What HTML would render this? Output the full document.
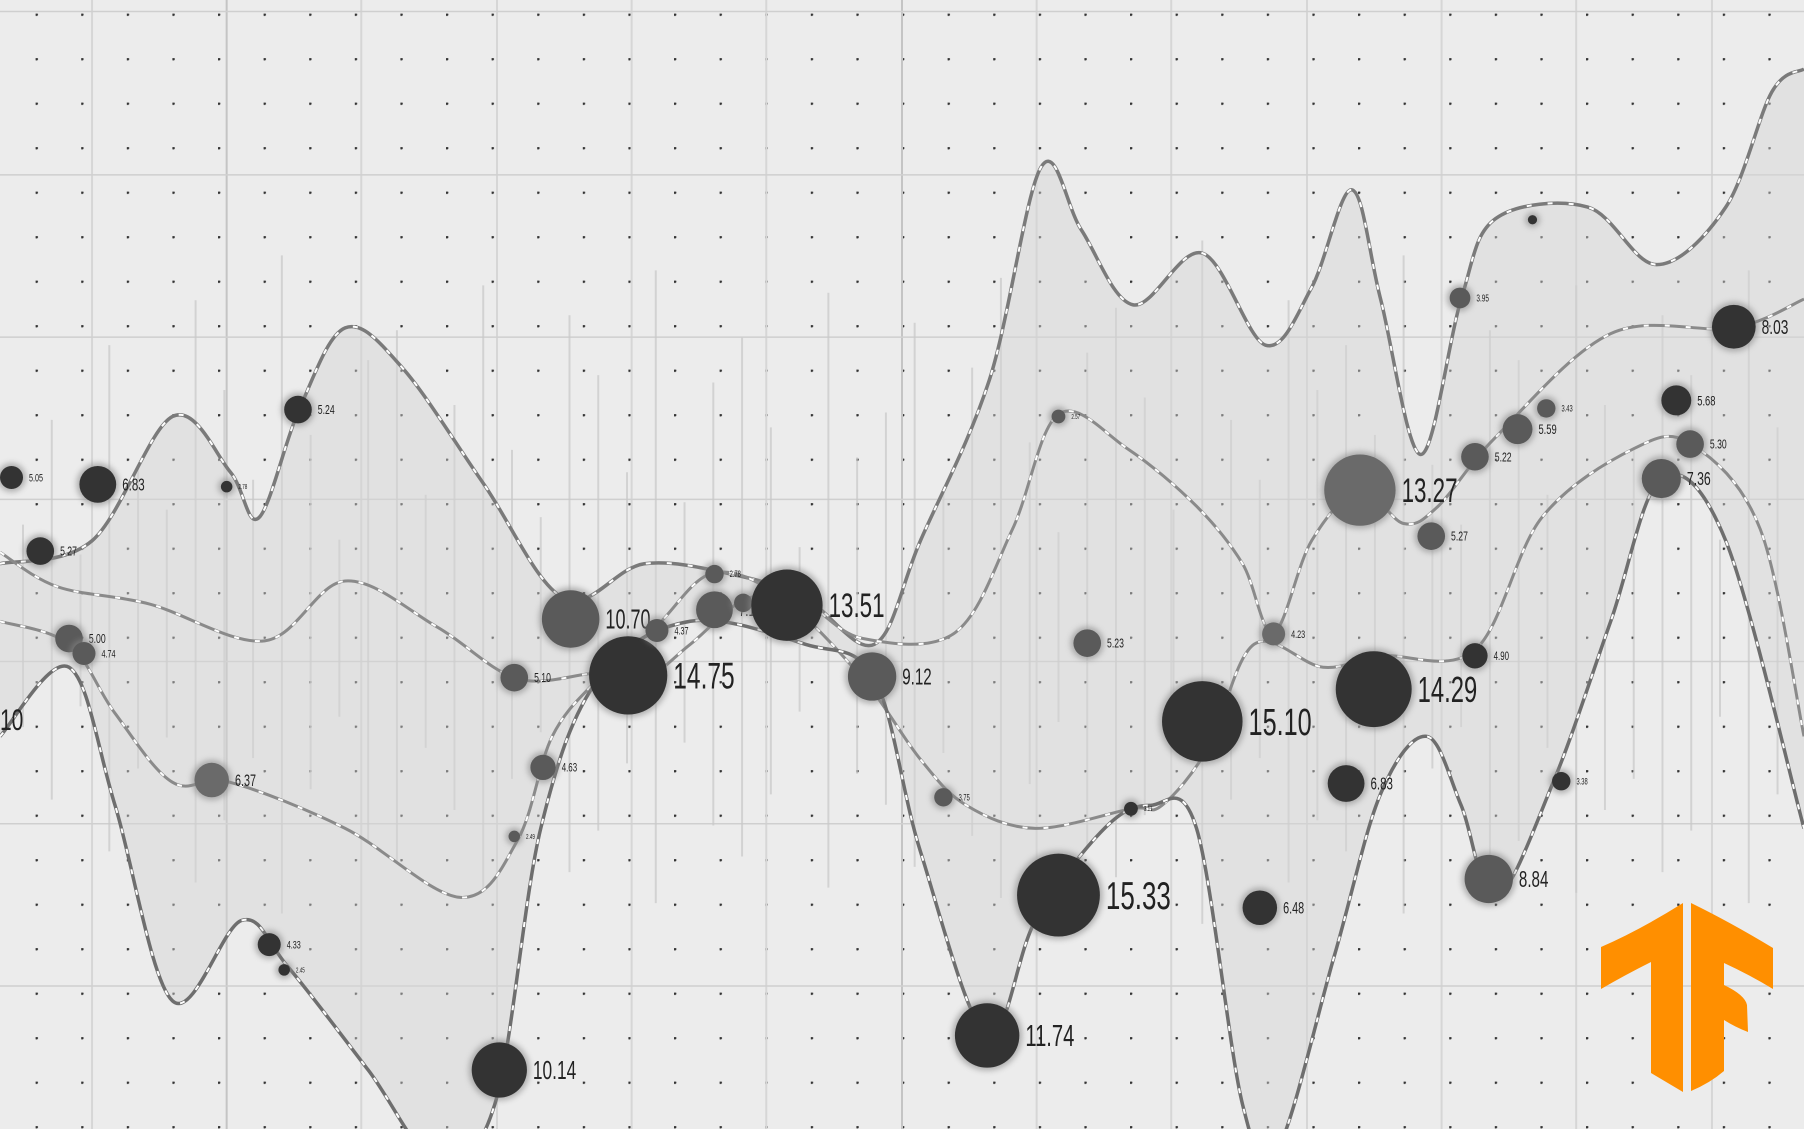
<!DOCTYPE html>
<html><head><meta charset="utf-8"><style>
html,body{margin:0;padding:0;background:#ececec;overflow:hidden}
svg{display:block}
text{font-family:"Liberation Sans Narrow","Liberation Sans",sans-serif;fill:#222}
</style></head><body>
<svg id="chart" width="1804" height="1129" viewBox="0 0 1804 1129" xmlns="http://www.w3.org/2000/svg">
<defs>
<pattern id="dots" x="35.6" y="13.6" width="45.6" height="44.5" patternUnits="userSpaceOnUse">
<circle cx="1" cy="1" r="1.4" fill="#333"/></pattern>
<filter id="glow" x="-50%" y="-50%" width="200%" height="200%"><feGaussianBlur stdDeviation="3"/></filter>
</defs>
<rect width="1804" height="1129" fill="#ececec"/>
<rect width="1804" height="1129" fill="url(#dots)"/>
<g id="grid"></g>
<g id="bars"></g>
<g id="areas"></g>
<g id="lines"></g>
<g id="bubbles"></g>
<text x="0" y="730" font-size="30" transform="scale(0.7,1)">10</text>
<g fill="#ff8f00">
<path d="M1601 947 Q1640 930 1683 903 L1683 1092 L1651 1073 L1651 962 Q1625 975 1601 989 Z"/>
<path d="M1691 903 Q1730 922 1773 948 L1773 989 Q1750 975 1724 963 L1724 985 Q1745 995 1747 1005 L1748 1032 Q1735 1027 1724 1020 L1724 1071 Q1710 1083 1691 1091 Z"/>
</g>
</svg>
<script>
const K = 1804/1568;
function sx(v){return v*K;}
function sy(v){return v*K;}
const NS="http://www.w3.org/2000/svg";
function mk(tag,parent){const e=document.createElementNS(NS,tag);document.getElementById(parent).appendChild(e);return e;}

const gridX=[80,197,314,432,549,666,784,901,1018,1136,1253,1370,1488];
const gridY=[10,152,293,434,575,716,857];

const barHeights=[80,150,60,200,120,90,230,170,110,260,140,70,190,210,100,160,240,130,85,220,180,115,250,95,175,205,145,65,235,125,155,215,105,185,245,135,75,195,225,165,90,270,150,110,230,170,200,140,260,120,80,210,190,100,240,160,130,220,180,70,250,145];

const bx=[10,85,197,259,35,60,73,184,234,247,434,447,472,447,496,546,571,621,621,646,684,758,820,858,920,920,945,983,1045,1095,1107,1170,1182,1194,1244,1269,1282,1282,1294,1319,1344,1357,1444,1457,1469,1507,1332];
const by=[415,421,423,356,479,555,568,678,821,843,930,589,667,727,538,587,548,499,530,524,526,588,693,900,362,778,559,703,627,789,551,681,426,599,466,259,397,570,764,373,355,679,416,348,386,284,191];
const br=[10,16,5,12,12,12,10,15,10,5,24,12,11,5,25,34,10,8,16,8,31,21,8,28,6,36,12,6,35,15,10,16,31,33,12,9,12,11,21,13,8,8,17,13,12,19,4];
const bLabels=["5.05","6.83","2.78","5.24","5.27","5.00","4.74","6.37","4.33","2.45","10.14","5.10","4.63","2.49","10.70","14.75","4.37","2.78","7.18","3.01","13.51","9.12","3.75","11.74","2.57","15.33","5.23","3.11","15.10","6.48","4.23","6.83","13.27","14.29","5.27","3.95","5.22","4.90","8.84","5.59","3.43","3.38","7.36","5.68","5.30","8.03",""];
const bShade=[0,0,0,0,0,1,1,2,0,0,0,1,1,1,1,0,1,1,1,1,0,1,1,0,1,0,1,0,0,0,2,0,2,0,1,1,1,0,1,1,1,0,1,0,1,0,0];

const lineAx=[0,80,150,200,225,260,300,350,420,490,560,640,700,760,800,860,905,940,985,1045,1100,1140,1175,1200,1235,1270,1300,1380,1440,1500,1540,1568];
const lineAy=[490,470,362,410,450,356,285,320,420,520,490,500,520,560,470,330,145,200,265,220,300,250,165,260,395,260,190,180,230,180,80,60];
const lineBx=[0,50,130,230,300,380,450,520,560,600,650,700,750,830,880,920,980,1040,1080,1107,1140,1182,1220,1250,1300,1400,1507,1568];
const lineBy=[480,510,525,557,505,545,590,585,590,560,520,525,555,550,460,360,390,440,490,550,470,426,455,440,380,290,285,260];
const lineCx=[0,60,100,150,200,300,400,450,480,520,570,620,680,750,800,840,900,983,1010,1050,1090,1150,1200,1282,1340,1420,1470,1530,1568];
const lineCy=[540,560,620,680,680,720,780,730,640,590,545,498,520,590,660,700,720,703,700,650,560,580,570,565,450,390,386,460,640];
const lineDx=[0,60,100,150,210,250,320,380,430,470,520,600,700,760,800,858,900,960,1000,1040,1080,1110,1160,1200,1240,1270,1300,1350,1400,1444,1500,1568];
const lineDy=[640,580,700,870,800,840,930,1010,960,720,590,540,560,590,740,900,800,720,700,720,960,1000,830,690,640,700,780,680,540,416,470,720];

gridX.forEach((g,i)=>{const l=mk('line','grid');l.setAttribute('x1',sx(g));l.setAttribute('x2',sx(g));l.setAttribute('y1',0);l.setAttribute('y2',1129);l.setAttribute('stroke',(i==1||i==6)?'#c4c4c4':'#d6d6d6');l.setAttribute('stroke-width',2);

});
gridY.forEach(g=>{const l=mk('line','grid');l.setAttribute('x1',0);l.setAttribute('x2',1804);l.setAttribute('y1',sy(g));l.setAttribute('y2',sy(g));l.setAttribute('stroke','#cfcfcf');l.setAttribute('stroke-width',1.5);

});

barHeights.forEach((h,i)=>{const x=20+i*25;const l=mk('line','bars');l.setAttribute('x1',sx(x));l.setAttribute('x2',sx(x));l.setAttribute('y1',sy(560-h*1.3));l.setAttribute('y2',sy(560+h*0.9));l.setAttribute('stroke','#c8c8c8');l.setAttribute('stroke-width',2);l.setAttribute('opacity',0.7);

});

function smooth(xs,ys){let p=[];for(let i=0;i<xs.length;i++)p.push([sx(xs[i]),sy(ys[i])]);
let d='M'+p[0][0]+' '+p[0][1];for(let i=0;i<p.length-1;i++){const p0=p[Math.max(0,i-1)],p1=p[i],p2=p[i+1],p3=p[Math.min(p.length-1,i+2)];
const c1=[p1[0]+(p2[0]-p0[0])/6,p1[1]+(p2[1]-p0[1])/6],c2=[p2[0]-(p3[0]-p1[0])/6,p2[1]-(p3[1]-p1[1])/6];
d+=` C${c1[0]} ${c1[1]} ${c2[0]} ${c2[1]} ${p2[0]} ${p2[1]}`;}return d;}

const a=mk('path','areas');
a.setAttribute('d',smooth(lineAx,lineAy)+' L'+sx(1568)+' '+sy(720)+' '+smooth(lineDx.slice().reverse(),lineDy.slice().reverse()).replace('M','L')+' Z');
a.setAttribute('fill','#d4d4d4');a.setAttribute('opacity',0.45);



[[lineAx,lineAy,'#7a7a7a',3.5,'line-upper'],[lineBx,lineBy,'#8a8a8a',3,'line-middle'],[lineCx,lineCy,'#8a8a8a',3,'line-lower'],[lineDx,lineDy,'#6e6e6e',3.5,'line-bottom']].forEach(s=>{
const base=mk('path','lines');base.setAttribute('d',smooth(s[0],s[1]));base.setAttribute('fill','none');base.setAttribute('stroke',s[2]);base.setAttribute('stroke-width',s[3]);


const dash=mk('path','lines');dash.setAttribute('d',smooth(s[0],s[1]));dash.setAttribute('fill','none');dash.setAttribute('stroke','#fff');dash.setAttribute('stroke-width',2);dash.setAttribute('stroke-dasharray','5 16');

});

const shades=['#333333','#5a5a5a','#6a6a6a'];
bx.forEach((x,i)=>{
const r=br[i]*K;
const g=mk('circle','bubbles');g.setAttribute('cx',sx(x));g.setAttribute('cy',sy(by[i]));g.setAttribute('r',r+3);g.setAttribute('fill','#888');g.setAttribute('filter','url(#glow)');g.setAttribute('opacity',0.6);


const c=mk('circle','bubbles');c.setAttribute('cx',sx(x));c.setAttribute('cy',sy(by[i]));c.setAttribute('r',r);c.setAttribute('fill',shades[bShade[i]]);


if(bLabels[i]){const t=mk('text','bubbles');const fs=Math.max(6,br[i]*0.95)*K;
const tx=sx(x)+r+6, ty=sy(by[i])+fs*0.35;
t.setAttribute('x',0);t.setAttribute('y',0);t.setAttribute('font-size',fs);
t.setAttribute('transform',`translate(${tx},${ty}) scale(0.66,1)`);
t.textContent=bLabels[i];

}
});
</script>
</body></html>
